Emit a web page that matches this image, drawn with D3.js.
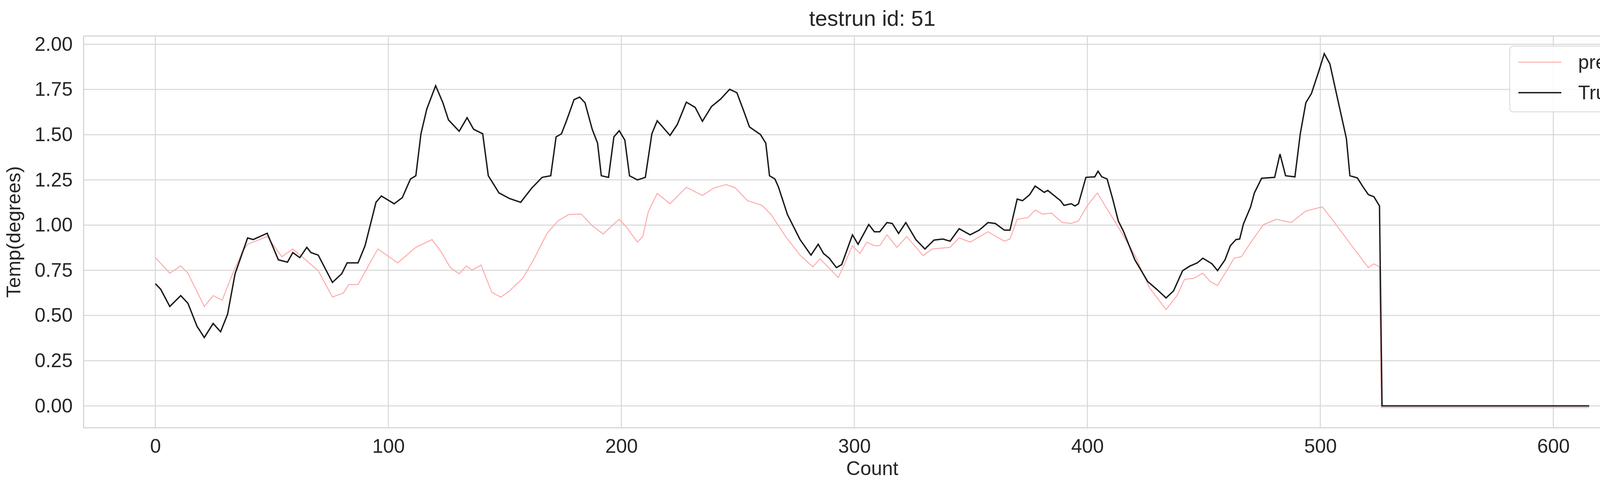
<!DOCTYPE html>
<html>
<head>
<meta charset="utf-8">
<script src="https://cdn.jsdelivr.net/npm/d3@7"></script>
<style>
  body { margin: 0; background: #fff; }
  text { font-family: "Liberation Sans", Arial, sans-serif; fill: #262626; }
</style>
</head>
<body>
<svg id="chart" width="4276" height="1248"></svg>
<script>
// values
const trueX = [0,2.3,6.2,10.9,14,17.9,21,24.8,28,31,34.2,39.6,42,48,52.8,56.7,59,62,65,66.8,69.9,76,80,82.3,87,90,94.7,97,102.5,106,109.5,111.8,114,116.5,120.3,123.4,125.8,130.4,133.8,136.6,140.5,142.9,147.5,152,156.8,161.5,166,169.7,172,174.3,176.6,179.7,182.1,184.4,187.5,189.8,191.4,194.5,196.8,199.1,201.5,203.5,206.9,210.3,213.1,215.4,220.9,224,227.9,231.7,234.8,238.7,242.6,246.5,249.6,252.7,255,259.7,262,263.6,265.9,267.4,271.3,276.7,281.4,284.5,286.8,289.2,292.3,294.6,299.2,301.6,306.2,308.6,310.9,314,316.3,319,322.1,326.4,330.3,334.2,338,341.1,345,349.7,353.6,357.4,360.5,364.4,366.8,369.9,372.2,375.3,377.6,381.5,383,388.5,390,393.1,394.7,396.2,399.4,403.2,404.6,406.2,408.5,410.9,413.3,415.6,420.4,425.9,429.8,433.8,437,440.9,444.1,447.2,449.6,453.5,455.9,459.1,461.4,463.8,465.4,467,470.1,471.7,474.8,480.4,482.7,485.1,489.1,491.4,493.8,496.2,499.3,501.7,504.1,507.2,511.2,512.7,515.9,518.3,520.6,523,525.4,525.8,526.5,615.4];
const trueY = [0.676,0.645,0.55,0.61,0.567,0.44,0.378,0.456,0.41,0.507,0.73,0.929,0.92,0.955,0.808,0.795,0.848,0.82,0.877,0.848,0.834,0.683,0.731,0.791,0.791,0.886,1.126,1.161,1.118,1.152,1.255,1.273,1.505,1.642,1.771,1.677,1.582,1.519,1.594,1.53,1.505,1.273,1.178,1.147,1.126,1.204,1.264,1.273,1.488,1.505,1.582,1.694,1.708,1.677,1.53,1.453,1.273,1.264,1.488,1.522,1.47,1.273,1.25,1.264,1.505,1.577,1.496,1.556,1.68,1.651,1.574,1.656,1.697,1.751,1.732,1.625,1.543,1.501,1.453,1.273,1.255,1.212,1.058,0.92,0.834,0.894,0.843,0.817,0.765,0.782,0.946,0.894,1.003,0.963,0.963,1.014,1.009,0.954,1.014,0.92,0.868,0.917,0.923,0.911,0.98,0.946,0.972,1.014,1.009,0.972,0.972,1.144,1.135,1.169,1.216,1.181,1.192,1.135,1.109,1.118,1.106,1.118,1.264,1.267,1.298,1.267,1.255,1.144,1.023,0.963,0.808,0.688,0.645,0.597,0.636,0.748,0.774,0.791,0.817,0.786,0.748,0.808,0.886,0.92,0.923,1.006,1.101,1.178,1.259,1.264,1.393,1.273,1.267,1.505,1.677,1.728,1.849,1.948,1.892,1.711,1.479,1.273,1.261,1.212,1.169,1.157,1.106,0.696,0,0];

const predX = [0,6.2,10.9,14,21,24.8,28.7,32.6,37.3,39.6,48,54.3,59,63.7,69.9,76,80.7,83,87,91,95.5,104,111.8,118.8,122.7,126.6,130.4,133.5,135.9,139.8,144.4,148.3,152,157.6,162,168.1,172.8,177.4,182.8,187.5,192.2,196,199.1,202.2,206.9,209.2,211.6,215.4,220.9,227.9,234.8,239.5,244.9,248.8,254.2,260.4,264.3,270.5,276.7,282.2,285.3,289.2,293.1,295.4,299.2,302.4,305.4,308.6,310.9,314,318.3,322.5,329.5,333.4,341.1,345,349.7,357.4,364.4,366.8,369.9,374.5,377.6,380.7,384.6,389.3,393.1,396.2,400.1,404.3,407.9,411.7,420.4,426.7,433.8,438.5,441.7,445.6,449.6,452.7,455.9,459.8,463,466.2,470.1,475.6,481.2,487.5,493.8,500.9,505.6,513.5,520.6,523,525.4,526.2,615.4];
const predY = [0.82,0.734,0.774,0.734,0.55,0.61,0.585,0.714,0.851,0.894,0.937,0.825,0.868,0.817,0.748,0.602,0.624,0.671,0.671,0.765,0.868,0.791,0.877,0.92,0.851,0.765,0.731,0.774,0.751,0.779,0.628,0.602,0.636,0.705,0.8,0.954,1.023,1.058,1.061,0.997,0.951,0.997,1.032,0.989,0.906,0.937,1.075,1.175,1.118,1.209,1.164,1.204,1.224,1.207,1.135,1.109,1.058,0.937,0.834,0.769,0.813,0.762,0.71,0.774,0.886,0.843,0.906,0.886,0.886,0.946,0.877,0.937,0.831,0.868,0.877,0.929,0.906,0.963,0.911,0.923,1.032,1.041,1.083,1.061,1.066,1.014,1.009,1.023,1.109,1.178,1.101,1.023,0.834,0.653,0.533,0.61,0.7,0.705,0.734,0.688,0.666,0.748,0.817,0.826,0.903,1.003,1.032,1.014,1.078,1.101,1.023,0.886,0.765,0.786,0.769,-0.009,-0.009];

const xTicks = [0, 100, 200, 300, 400, 500, 600];
const yTicks = [0, 0.25, 0.5, 0.75, 1.0, 1.25, 1.5, 1.75, 2.0];
const seriesNames = ["predict", "True"];
const seriesColors = ["#ffaaaa", "#1a1a1a"];

const svg = d3.select("#chart");
const plotL = 214, plotR = 4252, plotT = 92, plotB = 1094;

const x = d3.scaleLinear().domain([-30.8, 646.2]).range([plotL, plotR]);
const y = d3.scaleLinear().domain([-0.121, 2.046]).range([plotB, plotT]);

// grid
svg.append("g").selectAll("line").data(yTicks).join("line")
  .attr("x1", plotL).attr("x2", plotR)
  .attr("y1", d => y(d)).attr("y2", d => y(d))
  .attr("stroke", "#d6d6d6").attr("stroke-width", 2.5);
svg.append("g").selectAll("line").data(xTicks).join("line")
  .attr("y1", plotT).attr("y2", plotB)
  .attr("x1", d => x(d)).attr("x2", d => x(d))
  .attr("stroke", "#d6d6d6").attr("stroke-width", 2.5);
svg.append("rect").attr("x", plotL).attr("y", plotT)
  .attr("width", plotR - plotL).attr("height", plotB - plotT)
  .attr("fill", "none").attr("stroke", "#d6d6d6").attr("stroke-width", 3);

// axes (labels only)
const xAxis = svg.append("g").attr("transform", `translate(0,${plotB})`)
  .call(d3.axisBottom(x).tickValues(xTicks).tickSize(0).tickPadding(28));
const yAxis = svg.append("g").attr("transform", `translate(${plotL},0)`)
  .call(d3.axisLeft(y).tickValues(yTicks).tickFormat(d3.format(".2f")).tickSize(0).tickPadding(28));
[xAxis, yAxis].forEach(a => {
  a.select(".domain").remove();
  a.selectAll("text").attr("font-size", 50).attr("fill", "#262626")
    .attr("font-family", "Liberation Sans, Arial, sans-serif");
});

// lines
const line = d3.line().x(d => x(d[0])).y(d => y(d[1]));
svg.append("path").datum(predX.map((v, i) => [v, predY[i]]))
  .attr("d", line).attr("fill", "none")
  .attr("stroke", seriesColors[0]).attr("stroke-width", 2.5);
svg.append("path").datum(trueX.map((v, i) => [v, trueY[i]]))
  .attr("d", line).attr("fill", "none")
  .attr("stroke", seriesColors[1]).attr("stroke-width", 3.5);

// titles
svg.append("text").attr("x", (plotL + plotR) / 2).attr("y", 66)
  .attr("text-anchor", "middle").attr("font-size", 56).text("testrun id: 51");
svg.append("text").attr("x", (plotL + plotR) / 2).attr("y", 1215)
  .attr("text-anchor", "middle").attr("font-size", 50).text("Count");
svg.append("text").attr("transform", `translate(52,${(plotT + plotB) / 2}) rotate(-90)`)
  .attr("text-anchor", "middle").attr("font-size", 50).text("Temp(degrees)");

// legend
const lg = svg.append("g");
lg.append("rect").attr("x", 3865).attr("y", 118).attr("width", 358).attr("height", 168)
  .attr("rx", 8).attr("fill", "#fff").attr("fill-opacity", 0.85)
  .attr("stroke", "#dddddd").attr("stroke-width", 2.5);
seriesNames.forEach((name, i) => {
  const yy = 159 + i * 78;
  lg.append("line").attr("x1", 3887).attr("x2", 3997).attr("y1", yy).attr("y2", yy)
    .attr("stroke", seriesColors[i]).attr("stroke-width", i ? 3.5 : 2.5);
  lg.append("text").attr("x", 4040).attr("y", yy + 17).attr("font-size", 50).text(name);
});
</script>
</body>
</html>
